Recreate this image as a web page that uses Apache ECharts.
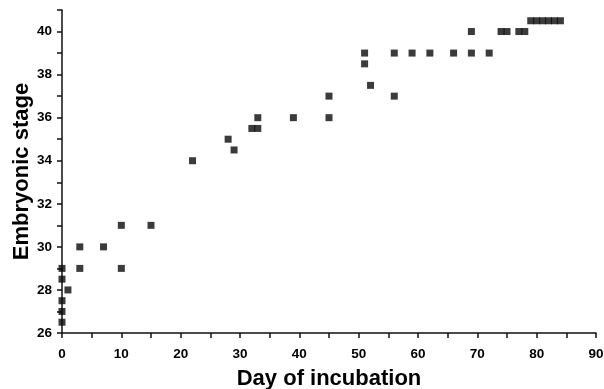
<!DOCTYPE html>
<html>
<head>
<meta charset="utf-8">
<script src="https://cdn.jsdelivr.net/npm/echarts@6/dist/echarts.min.js"></script>
<style>
  html, body { margin: 0; padding: 0; background: #fff; }
  #chart { width: 604px; height: 389px; }
</style>
</head>
<body>
<div id="chart"></div>
<script>
// Embryonic stage observed on each day of incubation
const days = [0, 0, 0, 0, 0, 1, 3, 3, 7, 10, 10, 15, 22, 28, 29, 32, 33, 33, 39, 45, 45,
  51, 51, 52, 56, 56, 59, 62, 66, 69, 72, 69, 74, 75, 77, 78, 79, 80, 81, 82, 83, 84];
const stages = [29, 28.5, 27.5, 27, 26.5, 28, 30, 29, 30, 31, 29, 31, 34, 35, 34.5, 35.5, 35.5, 36, 36, 36, 37,
  39, 38.5, 37.5, 37, 39, 39, 39, 39, 39, 39, 40, 40, 40, 40, 40, 40.5, 40.5, 40.5, 40.5, 40.5, 40.5];

const xTicks = [0, 10, 20, 30, 40, 50, 60, 70, 80, 90];
const yTicks = [26, 28, 30, 32, 34, 36, 38, 40];

const points = days.map((d, i) => [d, stages[i]]);
const font = "'Liberation Sans', Arial, sans-serif";

const chart = echarts.init(document.getElementById('chart'), null, { renderer: 'canvas' });
chart.setOption({
  backgroundColor: '#ffffff',
  animation: false,
  grid: { left: 62, right: 8, top: 10, bottom: 56, containLabel: false, outerBoundsMode: 'none' },
  xAxis: {
    type: 'value',
    min: 0, max: 90, interval: 5,
    name: 'Day of incubation',
    nameLocation: 'middle',
    nameGap: 35,
    nameMoveOverlap: false,
    nameTextStyle: { fontFamily: font, fontWeight: 'bold', fontSize: 22, color: '#000' },
    axisLine: { show: true, onZero: false, lineStyle: { color: '#111', width: 1.5 } },
    axisTick: { show: true, length: 5, lineStyle: { color: '#111', width: 1.5 } },
    axisLabel: {
      margin: 14,
      fontFamily: font, fontWeight: 'bold', fontSize: 13.5, color: '#000',
      formatter: v => (xTicks.indexOf(v) >= 0 ? String(v) : '')
    },
    splitLine: { show: false }
  },
  yAxis: {
    type: 'value',
    min: 26, max: 41, interval: 1,
    name: 'Embryonic stage',
    nameLocation: 'middle',
    nameGap: 29,
    nameMoveOverlap: false,
    nameTextStyle: { fontFamily: font, fontWeight: 'bold', fontSize: 22, color: '#000' },
    axisLine: { show: true, onZero: false, lineStyle: { color: '#111', width: 1.5 } },
    axisTick: { show: true, length: 5, lineStyle: { color: '#111', width: 1.5 } },
    axisLabel: {
      margin: 10,
      fontFamily: font, fontWeight: 'bold', fontSize: 13.5, color: '#000',
      formatter: v => (yTicks.indexOf(v) >= 0 ? String(v) : '')
    },
    splitLine: { show: false }
  },
  series: [{
    type: 'scatter',
    data: points,
    symbol: 'rect',
    symbolSize: 7,
    clip: false,
    itemStyle: { color: '#0a0a0a' }
  }]
});
</script>
</body>
</html>
